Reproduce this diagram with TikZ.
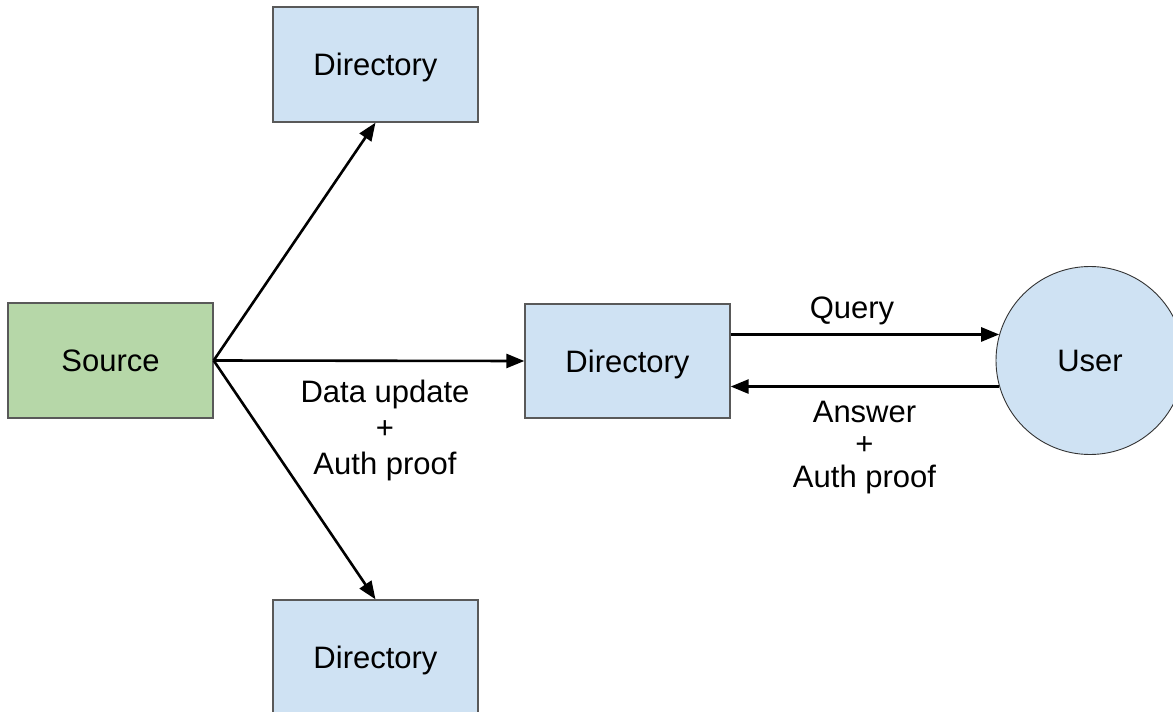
\documentclass[tikz,border=0pt]{standalone}
\usepackage{fontspec}
\setmainfont{Liberation Sans}
\usetikzlibrary{arrows.meta}
\definecolor{srcgreen}{HTML}{B6D7A8}
\definecolor{dirblue}{HTML}{CFE2F3}
\definecolor{edgegray}{HTML}{595959}
\tikzset{
  big/.style={font=\fontsize{31}{36}\selectfont},
  box/.style={draw=edgegray, line width=1.3pt, rectangle, inner sep=0pt,
    minimum width=205pt, minimum height=115pt, big, text depth=0pt},
  dirbox/.style={box, fill=dirblue},
  srcbox/.style={box, fill=srcgreen},
  userdisc/.style={draw=black!80, line width=0.9pt, circle, fill=dirblue, inner sep=0pt,
    minimum size=188pt, big, text depth=0pt},
  flow/.style={line width=2.6pt, -{Triangle[length=18pt,width=14pt]}},
  lbl/.style={align=center, inner sep=0pt, anchor=base},
}
\begin{document}
\begin{tikzpicture}[x=1pt, y=-1pt]
  \useasboundingbox (0,0) rectangle (1173,712);

  % boxes
  \node[dirbox] (dtop) at (375.5,64.5) {Directory};
  \node[srcbox] (src) at (110.5,360.5) {Source};
  \node[dirbox, minimum height=114pt] (dmid) at (627.5,361) {Directory};
  \node[dirbox] (dbot) at (375.5,657.5) {Directory};
  \node[userdisc] (usr) at (1090,360.5) {User};

  % distribution from the source
  \draw[flow] (src.east) -- (dtop.south);
  \draw[flow] (src.east) -- (dbot.north);
  \draw[flow] (src.east) -- (dmid.west);

  % query / answer exchange
  \draw[flow] (dmid.east |- usr.164) -- (usr.164);
  \draw[flow] (usr.196) -- (dmid.east |- usr.196);

  % labels (placed by the baseline of their last line)
  \node[lbl, font=\fontsize{31}{36}\selectfont] (lupd) at (385,474)
    {Data update\\+\\Auth proof};
  \node[lbl, big] (lq) at (852,318) {Query};
  \node[lbl, font=\fontsize{31}{32.5}\selectfont] (lans) at (864.5,487)
    {Answer\\+\\Auth proof};
\end{tikzpicture}
\end{document}
